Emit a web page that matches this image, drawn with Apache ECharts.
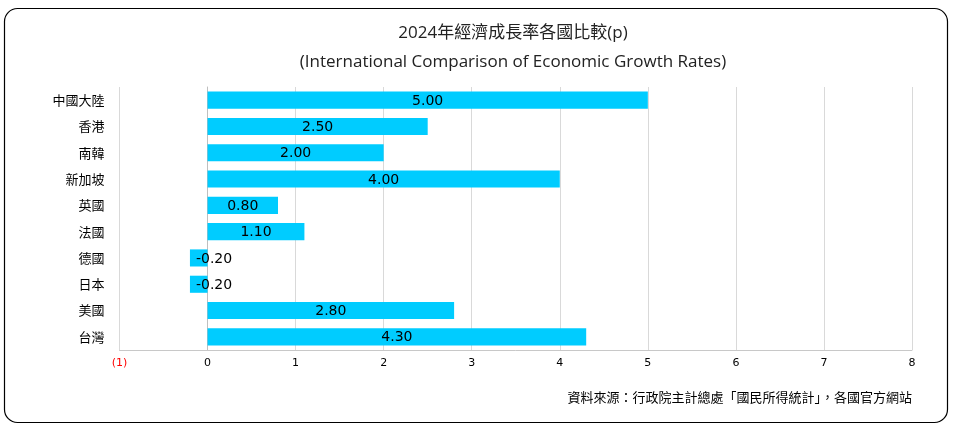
<!DOCTYPE html>
<html><head><meta charset="utf-8">
<script src="https://cdn.jsdelivr.net/npm/echarts@6/dist/echarts.min.js"></script>
<style>html,body{margin:0;padding:0;background:#fff}#c{width:954px;height:427px}</style>
</head><body><div id="c"></div>
<script>
var categories = ['中國大陸','香港','南韓','新加坡','英國','法國','德國','日本','美國','台灣'];
var growthValues = [5.00, 2.50, 2.00, 4.00, 0.80, 1.10, -0.20, -0.20, 2.80, 4.30];
var titleLine1 = '2024年經濟成長率各國比較(p)';
var titleLine2 = '(International Comparison of Economic Growth Rates)';
var sourceText = '資料來源：行政院主計總處「國民所得統計」，各國官方網站';

var chart = echarts.init(document.getElementById('c'));
var data = growthValues.map(function(v){
  var item = {value: v};
  if (v < 0) item.label = {position: 'insideLeft', distance: 6};
  return item;
});
chart.setOption({
  animation: false,
  graphic: [
    {type:'rect', shape:{x:4.5,y:8.5,width:943,height:414,r:13}, style:{fill:'none',stroke:'#000',lineWidth:1.2}},
    {type:'text', x: 513, y: 25, style:{text:titleLine1, font:'17px "Open Sans", "Noto Sans CJK TC", sans-serif', fill:'#222', textAlign:'center'}},
    {type:'text', x: 513, y: 54, style:{text:titleLine2, font:'17px "Open Sans", "Noto Sans CJK TC", sans-serif', fill:'#222', textAlign:'center'}},
    {type:'text', right: 42, top: 391, style:{text:sourceText, font:'13px "Noto Sans CJK TC", sans-serif', fill:'#000'}}
  ],
  grid: {left: 119.5, right: 42, top: 87, bottom: 77, containLabel: false},
  xAxis: {
    type: 'value', min: -1, max: 8, interval: 1,
    axisLine: {show: true, lineStyle:{color:'#c8c8c8'}},
    axisTick: {show: false},
    splitLine: {lineStyle:{color:'#d9d9d9'}},
    axisLabel: {
      margin: 8,
      fontFamily: 'DejaVu Sans', fontSize: 11, color: '#000',
      formatter: function(v){ return v < 0 ? '{n|(' + Math.abs(v) + ')}' : String(v); },
      rich: {n: {color: '#ff0000', fontFamily: 'DejaVu Sans', fontSize: 11}}
    }
  },
  yAxis: {
    type: 'category', data: categories, inverse: true,
    axisLine: {show: true, onZero: true, lineStyle:{color:'#bfbfbf'}},
    axisTick: {show: false},
    axisLabel: {fontFamily: '"Noto Sans CJK TC", sans-serif', fontSize: 13, color: '#000', margin: 15}
  },
  series: [{
    type: 'bar', data: data, barCategoryGap: '35%',
    itemStyle: {color: '#00ccff'},
    label: {
      show: true, position: 'inside', color: '#000', offset: [0, 1],
      fontFamily: 'DejaVu Sans', fontSize: 14,
      formatter: function(p){ return p.value.toFixed(2); }
    }
  }]
});
</script></body></html>
